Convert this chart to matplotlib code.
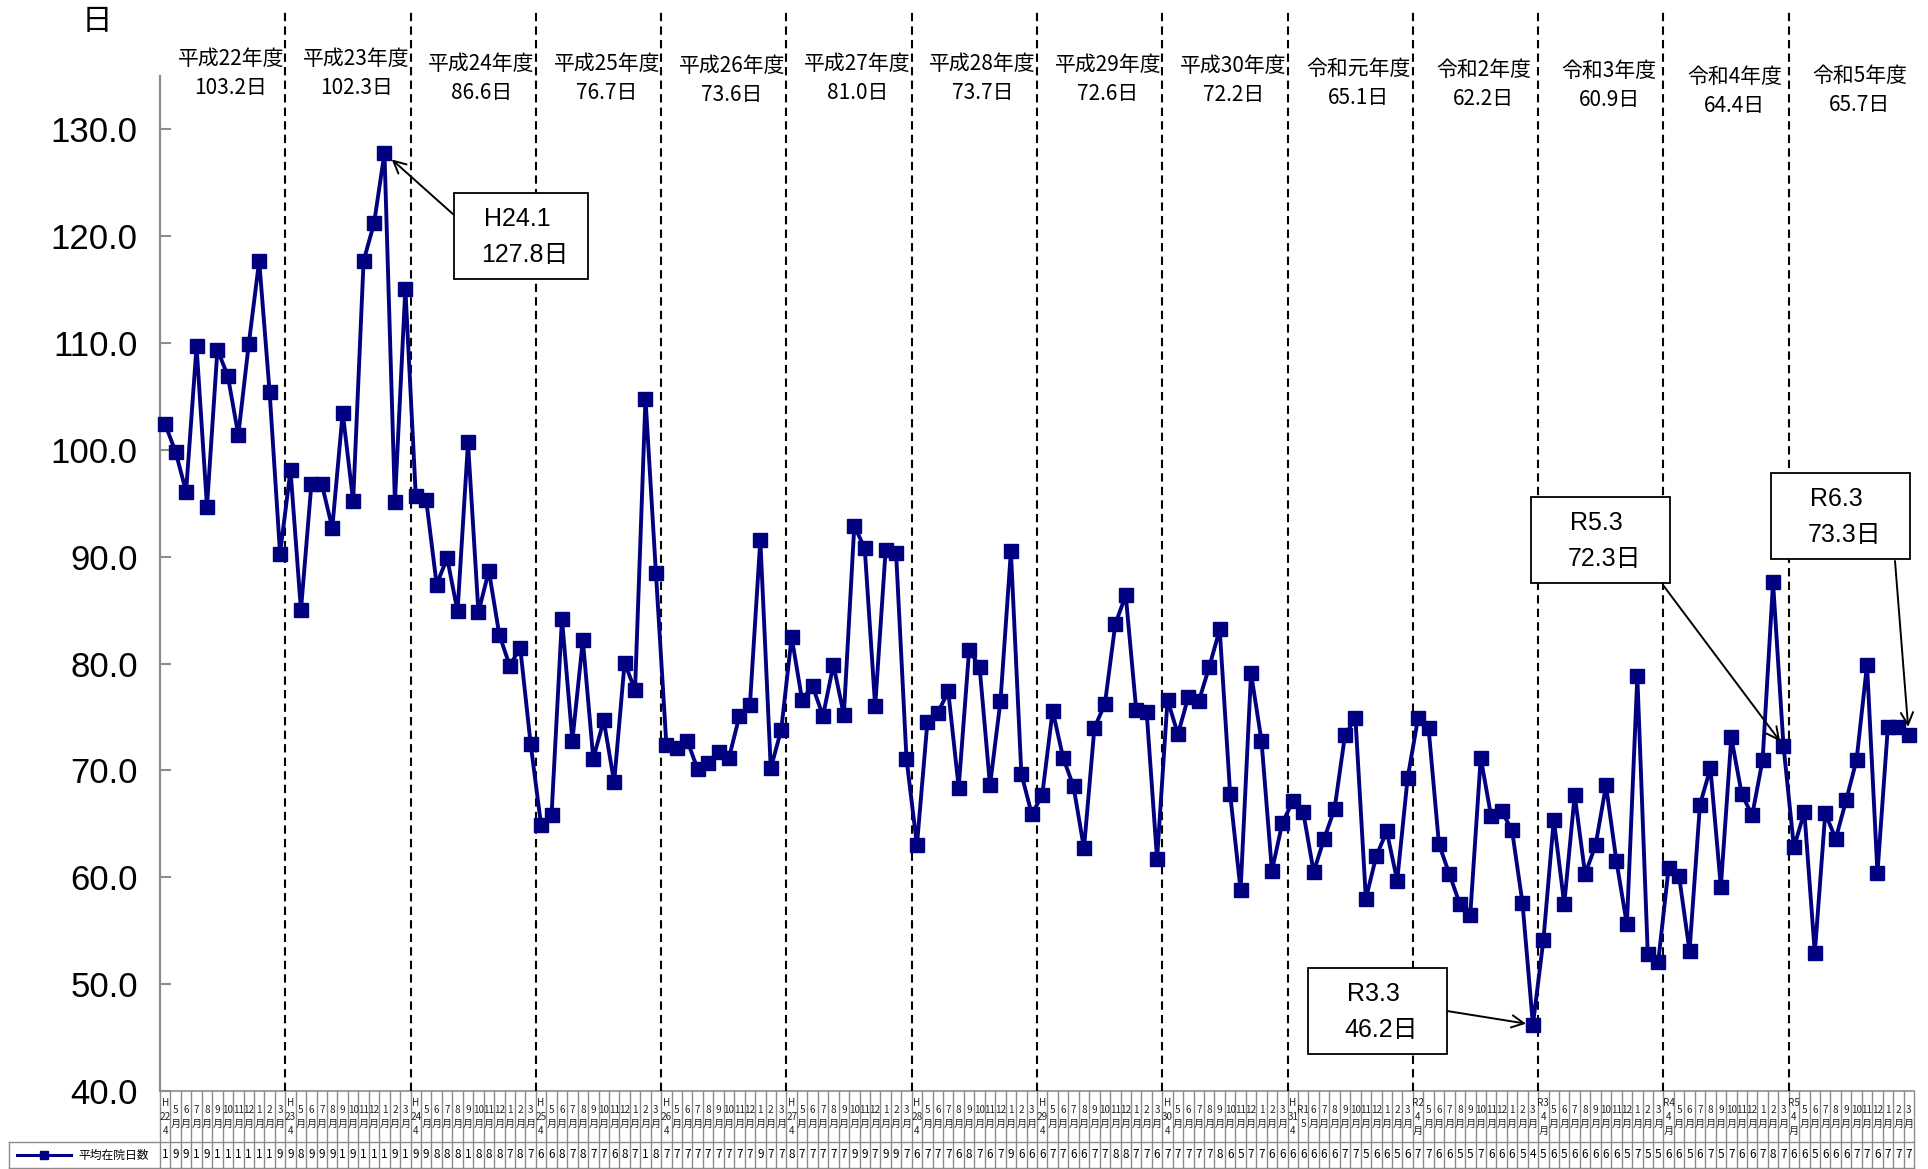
import numpy as np
import matplotlib
matplotlib.use('Agg')
import matplotlib.pyplot as plt
from matplotlib.transforms import blended_transform_factory
from matplotlib.patches import Rectangle
from matplotlib.lines import Line2D

plt.rcParams['font.family'] = ['Noto Sans CJK JP', 'DejaVu Sans']
LAT = ['Liberation Sans', 'Noto Sans CJK JP']

# monthly average length of stay (days), fiscal years H22 .. R5 (April -> March)
h22 = [102.4, 99.8, 96.1, 109.7, 94.7, 109.4, 106.9, 101.4, 109.9, 117.7, 105.4, 90.3]
h23 = [98.1, 85.0, 96.8, 96.8, 92.7, 103.5, 95.2, 117.7, 121.2, 127.8, 95.1, 115.1]
h24 = [95.7, 95.3, 87.4, 89.9, 84.9, 100.7, 84.8, 88.7, 82.7, 79.8, 81.5, 72.5]
h25 = [64.9, 65.8, 84.2, 72.8, 82.2, 71.1, 74.7, 68.9, 80.1, 77.5, 104.8, 88.5]
h26 = [72.4, 72.1, 72.8, 70.1, 70.7, 71.7, 71.2, 75.1, 76.1, 91.6, 70.2, 73.8]
h27 = [82.5, 76.6, 77.9, 75.1, 79.9, 75.2, 92.9, 90.8, 76.0, 90.6, 90.4, 71.1]
h28 = [63.0, 74.5, 75.4, 77.4, 68.4, 81.3, 79.7, 68.6, 76.5, 90.5, 69.7, 65.9]
h29 = [67.7, 75.6, 71.2, 68.5, 62.7, 74.0, 76.2, 83.7, 86.4, 75.7, 75.5, 61.7]
h30 = [76.6, 73.4, 76.9, 76.5, 79.7, 83.2, 67.8, 58.8, 79.1, 72.8, 60.6, 65.1]
r1 = [67.1, 66.1, 60.5, 63.6, 66.4, 73.3, 74.9, 58.0, 62.0, 64.3, 59.7, 69.3]
r2 = [74.9, 74.0, 63.1, 60.3, 57.5, 56.5, 71.2, 65.7, 66.2, 64.4, 57.6, 46.2]
r3 = [54.1, 65.4, 57.5, 67.7, 60.3, 63.0, 68.6, 61.5, 55.6, 78.8, 52.8, 52.1]
r4 = [60.9, 60.1, 53.1, 66.8, 70.2, 59.1, 73.1, 67.8, 65.8, 71.0, 87.6, 72.3]
r5 = [62.8, 66.1, 52.9, 66.0, 63.6, 67.2, 71.0, 79.9, 60.4, 74.1, 74.1, 73.3]
values = h22 + h23 + h24 + h25 + h26 + h27 + h28 + h29 + h30 + r1 + r2 + r3 + r4 + r5

fy_names = ['平成22年度', '平成23年度', '平成24年度', '平成25年度', '平成26年度', '平成27年度',
            '平成28年度', '平成29年度', '平成30年度', '令和元年度', '令和2年度', '令和3年度',
            '令和4年度', '令和5年度']
fy_avgs = ['103.2日', '102.3日', '86.6日', '76.7日', '73.6日', '81.0日', '73.7日',
           '72.6日', '72.2日', '65.1日', '62.2日', '60.9日', '64.4日', '65.7日']
fy_codes = ['H22', 'H23', 'H24', 'H25', 'H26', 'H27', 'H28', 'H29', 'H30', 'H31',
            'R2', 'R3', 'R4', 'R5']
months = [4, 5, 6, 7, 8, 9, 10, 11, 12, 1, 2, 3]
series_name = '平均在院日数'

# callouts: (index, label, value text)
callouts = [(21, 'H24.1', '127.8日'), (131, 'R3.3', '46.2日'),
            (155, 'R5.3', '72.3日'), (167, 'R6.3', '73.3日')]

W, H = 1928, 1169
fig = plt.figure(figsize=(W / 100, H / 100), dpi=100)
def fx(px): return px / W
def fy(py): return 1 - py / H

ax = fig.add_axes([fx(160), fy(1091), fx(1914) - fx(160), fy(76) - fy(1091)])
x = np.arange(len(values))
ax.plot(x, values, color='#000080', lw=2.8, marker='s', ms=10,
        mfc='#000080', mec='#000080', clip_on=False, zorder=5)
ax.set_xlim(-0.5, len(values) - 0.5)
ax.set_ylim(40, 135)
ax.set_xticks([])
ax.set_yticks(np.arange(40, 131, 10))
ax.set_yticklabels([f'{v:.1f}' for v in np.arange(40, 131, 10)], family=LAT)
ax.tick_params(axis='y', direction='in', length=8, width=1.5, color='#8c8c8c',
               labelsize=25, pad=16)
for s in ('top', 'right'):
    ax.spines[s].set_visible(False)
ax.spines['left'].set_color('#8c8c8c'); ax.spines['left'].set_linewidth(1.6)
ax.spines['bottom'].set_color('#8c8c8c'); ax.spines['bottom'].set_linewidth(1.2)

fig.text(fx(97), fy(22), '日', fontsize=22, ha='center', va='center')

# fiscal-year dividers and labels
tr = blended_transform_factory(ax.transData, fig.transFigure)
for k in range(1, 14):
    ax.plot([12 * k - 0.5] * 2, [40, 141.1], ls=(0, (4, 2.5)), color='black',
            lw=1.5, clip_on=False, zorder=3)
lab_y1 = [59, 59, 64, 64, 66, 64, 64, 65, 66, 69, 70, 71, 77, 76]
for k, (nm, av) in enumerate(zip(fy_names, fy_avgs)):
    xc = 12 * k + 6.3
    fig.text(xc, fy(lab_y1[k]), nm, transform=tr, fontsize=15, ha='center', va='center')
    fig.text(xc, fy(lab_y1[k] + 29), av, transform=tr, fontsize=15, ha='center', va='center')

# callout boxes
boxes = [(454, 193, 588, 279), (1308, 968, 1447, 1054),
         (1531, 497, 1670, 583), (1771, 473, 1910, 559)]
starts = [(454, 215), (1447, 1011), (1663, 585), (1895, 561)]
shrinks = [7, 5, 4, 6]
for (idx, l1, l2), (x0, y0, x1, y1), (sx, sy), sb in zip(callouts, boxes, starts, shrinks):
    fig.add_artist(Rectangle((fx(x0), fy(y1)), fx(x1) - fx(x0), fy(y0) - fy(y1),
                             transform=fig.transFigure, fill=True, fc='white',
                             ec='black', lw=1.3, zorder=6))
    cx = (x0 + x1) / 2
    fig.text(fx(cx - 4), fy(y0 + 26), l1, family=LAT, fontsize=18, ha='center',
             va='center', zorder=7)
    fig.text(fx(cx + 4), fy(y0 + 62), l2, family=LAT, fontsize=18, ha='center',
             va='center', zorder=7)
    ax.annotate('', xy=(idx, values[idx]), xycoords='data',
                xytext=(sx, H - sy), textcoords='figure pixels',
                arrowprops=dict(arrowstyle='->', color='black', lw=1.4,
                                shrinkA=0, shrinkB=sb, mutation_scale=22),
                annotation_clip=False, zorder=7)

# data table under the axis
y_top, y_mid, y_bot = fy(1091), fy(1142), fy(1168)
grid_c = '#8c8c8c'
for k in range(len(values) + 1):
    ax.plot([k - 0.5] * 2, [y_bot, y_top], transform=tr, color=grid_c, lw=1.0,
            clip_on=False)
for yy in (y_mid, y_bot):
    fig.add_artist(Line2D([fx(9), fx(1914)], [yy, yy], color=grid_c, lw=1.0))
fig.add_artist(Line2D([fx(9), fx(9)], [y_bot, y_mid], color=grid_c, lw=1.0))

for i, v in enumerate(values):
    k, m = divmod(i, 12)
    if m == 0:
        code = fy_codes[k]
        lab = f'{code}\n4\n月' if code.startswith('R') else f'{code[0]}\n{code[1:]}\n4'
    elif k == 9 and m == 1:
        lab = 'R1\n5'
    else:
        lab = f'{months[m]}\n月'
    fig.text(i, fy(1117), lab, transform=tr, fontsize=7.2, ha='center', va='center',
             linespacing=1.45, color='#222222')
    # the narrow cell only shows the leading digit of each value
    fig.text(i, fy(1155), f'{v:.1f}'[0], transform=tr, fontsize=8.5,
             ha='center', va='center')

# legend key in the table
fig.add_artist(Line2D([fx(17), fx(71)], [fy(1155)] * 2, color='#000080', lw=2.2))
fig.add_artist(Line2D([fx(44)], [fy(1155)], color='#000080', marker='s', ms=6))
fig.text(fx(78), fy(1155), series_name, fontsize=8.5, ha='left', va='center')

fig.savefig('out.png', dpi=100)
